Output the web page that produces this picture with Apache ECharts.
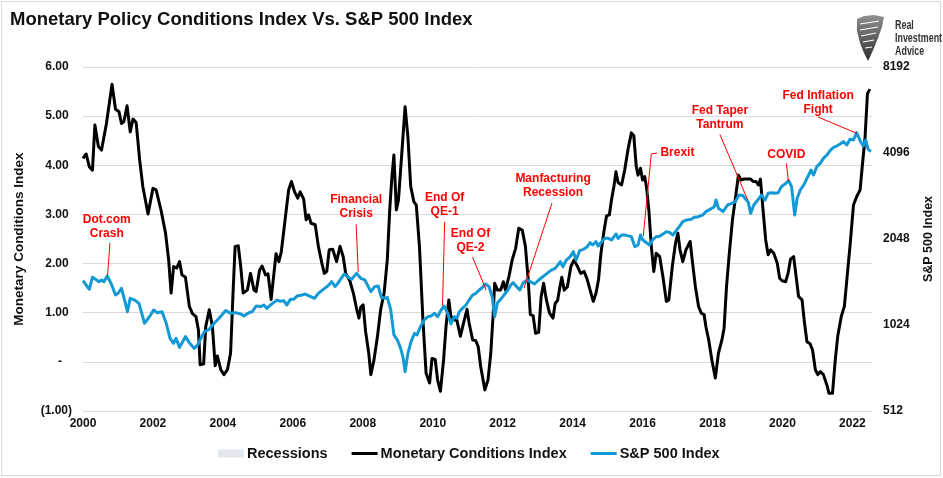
<!DOCTYPE html>
<html><head><meta charset="utf-8">
<script src="https://cdn.jsdelivr.net/npm/echarts@6/dist/echarts.min.js"></script>
<style>html,body{margin:0;padding:0;background:#fff}#c{width:943px;height:478px}</style>
</head><body><div id="c"></div>
<script>
const mciYears = [2000.00,2000.09,2000.18,2000.27,2000.34,2000.44,2000.53,2000.67,2000.83,2000.93,2001.03,2001.10,2001.17,2001.26,2001.35,2001.43,2001.52,2001.62,2001.71,2001.86,2002.00,2002.09,2002.23,2002.36,2002.45,2002.52,2002.59,2002.68,2002.76,2002.83,2002.93,2003.04,2003.13,2003.23,2003.30,2003.35,2003.45,2003.51,2003.61,2003.70,2003.78,2003.84,2003.94,2004.03,2004.13,2004.22,2004.29,2004.35,2004.44,2004.51,2004.58,2004.70,2004.79,2004.89,2004.95,2005.05,2005.12,2005.22,2005.29,2005.38,2005.45,2005.52,2005.60,2005.67,2005.79,2005.88,2005.96,2006.05,2006.14,2006.21,2006.31,2006.38,2006.45,2006.52,2006.64,2006.73,2006.83,2006.90,2006.97,2007.04,2007.14,2007.25,2007.35,2007.44,2007.51,2007.63,2007.73,2007.82,2007.89,2007.94,2008.01,2008.08,2008.17,2008.23,2008.32,2008.42,2008.51,2008.61,2008.70,2008.77,2008.83,2008.89,2008.96,2009.02,2009.21,2009.29,2009.37,2009.46,2009.53,2009.62,2009.72,2009.81,2009.91,2009.98,2010.07,2010.14,2010.22,2010.31,2010.38,2010.46,2010.52,2010.62,2010.69,2010.79,2010.88,2010.98,2011.04,2011.14,2011.23,2011.30,2011.37,2011.49,2011.58,2011.66,2011.73,2011.77,2011.85,2011.94,2012.02,2012.08,2012.18,2012.27,2012.37,2012.46,2012.56,2012.65,2012.73,2012.79,2012.87,2012.94,2013.03,2013.10,2013.17,2013.25,2013.34,2013.44,2013.50,2013.57,2013.63,2013.69,2013.76,2013.85,2013.95,2014.04,2014.14,2014.23,2014.33,2014.42,2014.50,2014.59,2014.67,2014.74,2014.81,2014.90,2014.97,2015.05,2015.11,2015.18,2015.24,2015.30,2015.40,2015.49,2015.59,2015.68,2015.75,2015.82,2015.87,2015.94,2016.00,2016.06,2016.11,2016.18,2016.25,2016.32,2016.39,2016.49,2016.58,2016.68,2016.75,2016.85,2016.94,2017.01,2017.07,2017.15,2017.24,2017.36,2017.43,2017.51,2017.60,2017.68,2017.76,2017.81,2017.89,2017.98,2018.08,2018.17,2018.27,2018.33,2018.40,2018.48,2018.57,2018.66,2018.74,2018.81,2018.90,2018.99,2019.09,2019.16,2019.24,2019.31,2019.37,2019.44,2019.52,2019.59,2019.66,2019.75,2019.85,2019.92,2019.99,2020.09,2020.16,2020.23,2020.32,2020.39,2020.46,2020.56,2020.63,2020.70,2020.79,2020.86,2020.94,2021.01,2021.08,2021.17,2021.27,2021.33,2021.43,2021.51,2021.58,2021.68,2021.77,2021.84,2021.93,2022.03,2022.12,2022.22,2022.28,2022.36,2022.43,2022.50];
const mciValues = [4.14,4.23,3.97,3.90,4.82,4.38,4.31,4.85,5.65,5.14,5.09,4.85,4.89,5.21,4.68,4.94,4.87,4.11,3.57,3.01,3.53,3.50,3.09,2.62,2.07,1.40,1.94,1.91,2.04,1.77,1.72,1.13,0.98,0.92,0.65,-0.06,-0.04,0.72,1.06,0.72,-0.08,0.12,-0.16,-0.26,-0.16,0.18,1.40,2.35,2.36,1.94,1.40,1.46,1.80,1.46,1.43,1.87,1.95,1.77,1.79,1.27,1.74,2.20,2.04,2.24,2.96,3.50,3.67,3.46,3.33,3.46,3.31,2.89,2.99,2.82,2.79,2.35,2.01,1.80,1.84,2.28,2.29,2.04,2.35,2.14,1.80,1.65,1.40,1.09,0.89,1.11,1.16,0.62,0.18,-0.26,0.04,0.52,1.06,1.40,2.07,3.09,3.74,4.21,3.09,3.29,5.19,4.58,3.57,3.26,3.19,2.35,0.85,-0.23,-0.43,0.07,0.05,-0.37,-0.60,0.04,0.72,1.26,0.92,0.85,0.85,0.52,0.79,1.07,0.79,0.45,0.43,0.31,-0.09,-0.57,-0.37,0.18,0.99,1.60,1.46,1.46,1.63,1.46,1.74,2.07,2.31,2.72,2.68,2.35,1.67,0.96,0.94,0.58,0.60,1.33,1.60,1.26,0.99,0.89,1.19,1.25,1.50,1.72,1.46,1.53,1.94,2.07,1.94,1.80,1.84,1.67,1.46,1.23,1.40,1.67,2.21,2.68,2.97,2.99,3.29,3.57,3.87,3.65,3.60,3.91,4.35,4.66,4.60,3.97,3.80,3.94,3.70,3.77,3.57,3.09,2.35,1.84,2.21,2.14,1.74,1.23,1.26,1.94,2.41,2.62,2.28,2.04,2.28,2.45,2.01,1.53,1.13,0.99,0.96,0.72,0.45,0.04,-0.33,0.18,0.45,0.68,1.53,2.21,2.89,3.36,3.80,3.70,3.72,3.72,3.72,3.67,3.67,3.60,3.72,3.13,2.48,2.18,2.28,2.21,2.01,1.70,1.65,1.63,1.80,2.09,2.14,1.74,1.33,1.26,0.79,0.41,0.37,0.24,-0.16,-0.26,-0.20,-0.26,-0.47,-0.64,-0.64,0.04,0.52,0.92,1.13,1.67,2.35,3.19,3.36,3.50,3.97,4.55,5.46,5.55];

const spxYears = [2000.00,2000.18,2000.27,2000.39,2000.46,2000.53,2000.60,2000.69,2000.81,2000.93,2001.00,2001.10,2001.19,2001.27,2001.35,2001.48,2001.60,2001.76,2001.90,2002.02,2002.12,2002.26,2002.38,2002.49,2002.59,2002.66,2002.76,2002.85,2002.93,2003.04,2003.18,2003.28,2003.37,2003.47,2003.61,2003.75,2003.89,2004.08,2004.22,2004.36,2004.51,2004.60,2004.74,2004.84,2004.95,2005.08,2005.17,2005.26,2005.36,2005.45,2005.55,2005.64,2005.74,2005.83,2005.93,2006.02,2006.12,2006.26,2006.35,2006.50,2006.62,2006.73,2006.87,2007.00,2007.11,2007.21,2007.30,2007.47,2007.58,2007.68,2007.82,2007.94,2008.06,2008.23,2008.34,2008.44,2008.53,2008.63,2008.70,2008.80,2008.89,2008.99,2009.08,2009.15,2009.21,2009.29,2009.38,2009.48,2009.55,2009.65,2009.76,2009.86,2009.95,2010.05,2010.14,2010.24,2010.33,2010.43,2010.52,2010.62,2010.69,2010.76,2010.85,2010.95,2011.04,2011.14,2011.23,2011.33,2011.42,2011.51,2011.61,2011.70,2011.77,2011.85,2011.94,2012.04,2012.15,2012.23,2012.30,2012.40,2012.49,2012.59,2012.70,2012.79,2012.91,2013.03,2013.15,2013.27,2013.38,2013.50,2013.55,2013.65,2013.72,2013.82,2013.93,2014.02,2014.10,2014.20,2014.31,2014.42,2014.50,2014.57,2014.67,2014.73,2014.83,2014.92,2015.02,2015.11,2015.24,2015.30,2015.40,2015.49,2015.59,2015.68,2015.78,2015.87,2015.94,2016.01,2016.11,2016.20,2016.28,2016.39,2016.49,2016.58,2016.68,2016.77,2016.87,2016.96,2017.05,2017.15,2017.26,2017.39,2017.48,2017.60,2017.72,2017.81,2017.93,2018.05,2018.10,2018.17,2018.30,2018.43,2018.55,2018.65,2018.76,2018.87,2018.95,2019.02,2019.09,2019.18,2019.31,2019.40,2019.50,2019.59,2019.69,2019.78,2019.88,2019.97,2020.07,2020.18,2020.26,2020.35,2020.42,2020.51,2020.61,2020.70,2020.82,2020.89,2020.98,2021.08,2021.17,2021.27,2021.36,2021.46,2021.55,2021.65,2021.74,2021.84,2021.93,2022.03,2022.12,2022.22,2022.31,2022.38,2022.45,2022.53];
const spxValues = [1464,1365,1504,1472,1452,1472,1452,1520,1425,1304,1322,1376,1252,1140,1270,1252,1219,1038,1095,1156,1131,1140,1038,920,883,920,855,895,932,888,848,872,920,970,989,1038,1081,1150,1125,1131,1119,1101,1131,1140,1193,1188,1203,1171,1203,1226,1252,1240,1245,1203,1259,1259,1293,1304,1314,1290,1270,1322,1365,1402,1452,1395,1440,1545,1504,1480,1553,1492,1472,1340,1395,1402,1280,1270,1280,1156,945,907,850,790,703,815,895,957,945,1010,1066,1095,1101,1125,1095,1156,1193,1125,1033,1095,1081,1140,1171,1203,1252,1304,1322,1358,1387,1425,1395,1286,1095,1226,1259,1304,1358,1413,1440,1395,1358,1440,1472,1452,1425,1472,1512,1553,1590,1617,1604,1706,1638,1729,1777,1849,1729,1864,1884,1925,1988,1951,2004,1935,2004,2059,2059,2031,2132,2059,2115,2115,2100,2087,1925,1951,2115,2031,1988,1951,2031,2087,2093,2132,2172,2160,2115,2191,2262,2355,2387,2400,2439,2452,2485,2553,2601,2657,2804,2623,2553,2694,2730,2767,2920,2907,2820,2760,2518,2694,2820,2920,2804,2960,2975,2960,2975,3124,3190,3278,3124,2485,2843,3040,3166,3340,3570,3430,3668,3768,3923,4030,4173,4287,4333,4405,4489,4368,4573,4548,4825,4523,4333,4548,4219,4141];

const xTickYears = [2000,2002,2004,2006,2008,2010,2012,2014,2016,2018,2020,2022];
const leftTickValues = [-1,0,1,2,3,4,5,6];
const leftTickLabels = ['(1.00)','-   ','1.00 ','2.00 ','3.00 ','4.00 ','5.00 ','6.00 '];
const rightTickValues = [512,1024,2048,4096,8192];
const recessions = [[2001.17,2001.83],[2007.92,2009.42],[2020.08,2020.25]];

const annotations = [
  {text:'Dot.com\nCrash', at:[2000.68,2.76], line:[[2000.77,2.42],[2000.70,1.73]]},
  {text:'Financial\nCrisis', at:[2007.81,3.15], line:[[2007.81,2.80],[2007.87,1.83]]},
  {text:'End Of\nQE-1', at:[2010.34,3.19], line:[[2010.34,2.85],[2010.28,1.14]]},
  {text:'End Of\nQE-2', at:[2011.08,2.46], line:[[2011.14,2.13],[2011.53,1.46]]},
  {text:'Manfacturing\nRecession', at:[2013.44,3.58], line:[[2013.41,3.23],[2012.61,1.50]]},
  {text:'Brexit', at:[2016.51,4.25], align:'left', line:[[2016.42,4.25],[2016.25,4.23],[2016.02,2.56]]},
  {text:'Fed Taper\nTantrum', at:[2018.21,4.96], line:[[2018.21,4.63],[2019.01,3.29]]},
  {text:'COVID', at:[2020.11,4.21], line:[[2020.11,4.04],[2020.17,3.68]]},
  {text:'Fed Inflation\nFight', at:[2021.02,5.28], line:[[2021.02,4.98],[2022.13,4.65]]}
];

const FONT = '"Liberation Sans", Arial, sans-serif';
const LINE_ICON = 'path://M0,0 M26,8 M0,2.5 L26,2.5 L26,5.5 L0,5.5 Z';
const chart = echarts.init(document.getElementById('c'), null, {renderer:'canvas'});
const mciData = mciYears.map((y,i)=>[y, mciValues[i]]);
const spxData = spxYears.map((y,i)=>[y, spxValues[i]]);

chart.setOption({
  animation:false,
  backgroundColor:'#ffffff',
  textStyle:{fontFamily:FONT},
  grid:{left:83, right:66, top:67, bottom:67, containLabel:false},
  legend:{
    left:213, top:441, itemWidth:26, itemHeight:8, itemGap:24,
    textStyle:{fontFamily:FONT, fontWeight:'bold', fontSize:14.5, color:'#111', padding:[0,0,0,-2]},
    data:[
      {name:'Recessions', icon:'rect', itemStyle:{color:'#e2e8ee'}},
      {name:'Monetary Conditions Index', icon:LINE_ICON, itemStyle:{color:'#000000'}},
      {name:'S&P 500 Index', icon:LINE_ICON, itemStyle:{color:'#139ad6'}}
    ]
  },
  xAxis:{
    type:'value', min:2000, max:2022.56, interval:2,
    axisLine:{show:false}, axisTick:{show:false}, splitLine:{show:false},
    axisLabel:{
      showMaxLabel:false, margin:7,
      fontFamily:FONT, fontWeight:'bold', fontSize:12, color:'#111',
      formatter:v => xTickYears.indexOf(Math.round(v))>=0 && Math.abs(v-Math.round(v))<1e-6 ? String(Math.round(v)) : ''
    }
  },
  yAxis:[
    {
      type:'value', min:-1, max:6, interval:1, position:'left',
      name:'Monetary Conditions Index', nameLocation:'middle', nameGap:57, nameRotate:90,
      nameTextStyle:{fontFamily:FONT, fontWeight:'bold', fontSize:13.5, color:'#111'},
      axisLine:{show:false}, axisTick:{show:false},
      splitLine:{show:true, lineStyle:{color:'#d9d9d9', width:1}},
      axisLabel:{
        margin:11, fontFamily:FONT, fontWeight:'bold', fontSize:12, color:'#111',
        formatter:v => { const i = leftTickValues.indexOf(Math.round(v)); return i>=0 ? leftTickLabels[i] : ''; }
      }
    },
    {
      type:'log', logBase:2, min:512, max:8192, position:'right',
      name:'S&P 500 Index', nameLocation:'middle', nameGap:50, nameRotate:90,
      nameTextStyle:{fontFamily:FONT, fontWeight:'bold', fontSize:12.5, color:'#111'},
      axisLine:{show:false}, axisTick:{show:false}, splitLine:{show:false},
      axisLabel:{
        margin:11, fontFamily:FONT, fontWeight:'bold', fontSize:12, color:'#111',
        formatter:v => { const r = Math.round(v); return rightTickValues.indexOf(r)>=0 ? String(r) : ''; }
      }
    }
  ],
  series:[
    {
      name:'Recessions', type:'line', data:[], silent:true,
      itemStyle:{color:'#e2e8ee'},
      markArea:{silent:true, itemStyle:{color:'rgba(215,225,235,0.01)'},
        data: recessions.map(r=>[{xAxis:r[0]},{xAxis:r[1]}])}
    },
    {
      name:'Monetary Conditions Index', type:'line', data:mciData,
      xAxisIndex:0, yAxisIndex:0, showSymbol:false, symbol:'none',
      lineStyle:{color:'#000000', width:3, join:'round'}, itemStyle:{color:'#000000'}, z:3
    },
    {
      name:'S&P 500 Index', type:'line', data:spxData,
      xAxisIndex:0, yAxisIndex:1, showSymbol:false, symbol:'none',
      lineStyle:{color:'#139ad6', width:3, join:'round'}, itemStyle:{color:'#139ad6'}, z:4
    }
  ]
});

function px(p){ return chart.convertToPixel({xAxisIndex:0, yAxisIndex:0}, p); }
const g = [];
g.push({type:'rect', shape:{x:1.5, y:1.5, width:939, height:474}, style:{fill:null, stroke:'#d9d9d9', lineWidth:1}, z:0, silent:true});
g.push({type:'text', style:{text:'Monetary Policy Conditions Index Vs. S&P 500 Index', x:10, y:20, fill:'#111', font:'bold 18.5px '+FONT, verticalAlign:'middle'}});
// logo (simplified emblem)
g.push({type:'polygon', shape:{points:[[857,19],[864,16],[874,15],[884,17],[882,27],[878,38],[874,48],[870,57],[868,61],[864,53],[860,43],[857,31]]},
  style:{fill:new echarts.graphic.LinearGradient(0,0,0,1,[{offset:0,color:'#909090'},{offset:1,color:'#2e2e2e'}])}});
[[[860,24],[879,21]],[[860,30],[878,27]],[[861,36],[876,33]],[[863,42],[874,40]],[[865,48],[872,47]]].forEach(pts=>{
  g.push({type:'polyline', shape:{points:pts}, style:{stroke:'#ffffff', lineWidth:1.2, fill:null}});
});
['Real','Investment','Advice'].forEach((t,i)=>{
  g.push({type:'text', x:895, y:25+i*13, scaleX:0.66, style:{text:t, x:0, y:0, fill:'#333333', font:'bold 13.5px '+FONT, verticalAlign:'middle'}});
});
annotations.forEach(a=>{
  const p = px(a.at);
  g.push({type:'text', z:10, style:{text:a.text, x:p[0], y:p[1], align:a.align||'center', verticalAlign:'middle', lineHeight:14, fill:'#ff0000', font:'bold 12px '+FONT}});
  g.push({type:'polyline', z:10, shape:{points:a.line.map(px)}, style:{stroke:'#ff0000', lineWidth:1, fill:null}});
});
chart.setOption({graphic:g});
</script>
</body></html>
